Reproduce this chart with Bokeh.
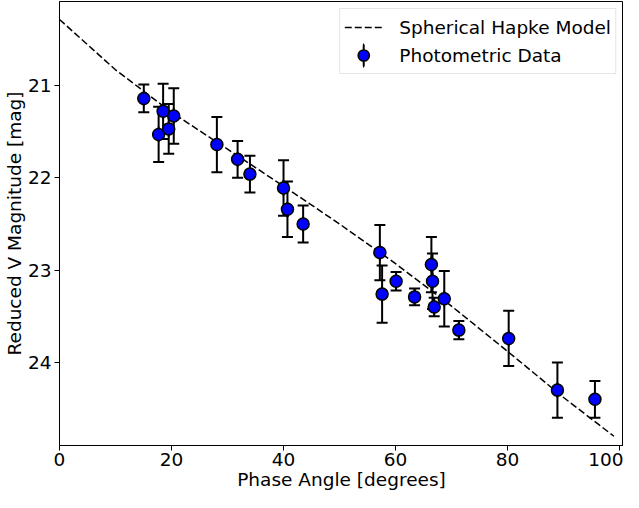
import numpy as np
from bokeh.plotting import figure
from bokeh.models import (ColumnDataSource, Range1d, FixedTicker, Legend, LegendItem)
from bokeh.embed import file_html
from bokeh.resources import INLINE

# Photometric data
phase = [15.05, 17.7, 18.5, 19.5, 20.4, 28.1, 31.8, 34.0, 40.0, 40.7, 43.5,
         57.2, 57.6, 60.1, 63.4, 66.4, 66.6, 66.9, 68.7, 71.3, 80.2, 88.9, 95.6]
mag = [21.14, 21.53, 21.28, 21.47, 21.33, 21.64, 21.80, 21.96, 22.11, 22.34, 22.50,
       22.81, 23.26, 23.12, 23.29, 22.94, 23.12, 23.40, 23.31, 23.65, 23.74, 24.30, 24.40]
err = [0.15, 0.30, 0.30, 0.27, 0.30, 0.30, 0.20, 0.20, 0.30, 0.30, 0.20,
       0.30, 0.31, 0.10, 0.09, 0.30, 0.30, 0.10, 0.30, 0.10, 0.30, 0.30, 0.20]

# Spherical Hapke model curve
model_phase = [0, 10, 20, 30, 40, 50, 60, 70, 80, 90, 99]
model_mag = [20.285, 20.83, 21.29, 21.69, 22.09, 22.50, 22.93, 23.39, 23.88, 24.38, 24.80]

x_ticks = [0, 20, 40, 60, 80, 100]
y_ticks = [21, 22, 23, 24]

FONT = "DejaVu Sans"
FS = "18.5px"

mag_a = np.array(mag)
err_a = np.array(err)
src = ColumnDataSource(dict(x=phase, y=mag, lo=list(mag_a + err_a), hi=list(mag_a - err_a)))

p = figure(width=623, height=492, output_backend="svg", toolbar_location=None,
           x_range=Range1d(0, 100.7), y_range=Range1d(24.90, 20.09),
           min_border=0, min_border_left=10, min_border_right=0, min_border_top=1,
           min_border_bottom=10)

p.background_fill_color = "white"
p.border_fill_color = "white"
p.outline_line_color = "black"
p.outline_line_width = 1
p.xgrid.visible = False
p.ygrid.visible = False

for ax in (p.xaxis, p.yaxis):
    ax.axis_line_color = "black"
    ax.major_tick_line_color = "black"
    ax.major_tick_out = 5
    ax.major_tick_in = 0
    ax.minor_tick_line_color = None
    ax.major_label_text_font = FONT
    ax.major_label_text_font_size = FS
    ax.major_label_text_color = "black"
    ax.axis_label_text_font = FONT
    ax.axis_label_text_font_size = FS
    ax.axis_label_text_font_style = "normal"
    ax.axis_label_text_color = "black"

p.xaxis.ticker = FixedTicker(ticks=x_ticks)
p.yaxis.ticker = FixedTicker(ticks=y_ticks)
p.xaxis.axis_label = "Phase Angle [degrees]"
p.yaxis.axis_label = "Reduced V Magnitude [mag]"
p.xaxis.major_label_standoff = 2
p.xaxis.axis_label_standoff = 0
p.yaxis.major_label_standoff = 3
p.yaxis.axis_label_standoff = 0

# model line
model_r = p.line(model_phase, model_mag, line_color="black", line_width=1.5, line_dash="7 3")

# error bars
p.segment(x0="x", y0="lo", x1="x", y1="hi", source=src, line_color="black", line_width=2)
p.scatter(x="x", y="lo", source=src, marker="dash", size=11, line_color="black", line_width=2)
p.scatter(x="x", y="hi", source=src, marker="dash", size=11, line_color="black", line_width=2)
# thin vertical stroke centred on each point (lies within the error bars; gives the legend its bar)
bar_leg = p.ellipse(x="x", y="y", source=src, width=0.1, height=16,
                    width_units="screen", height_units="screen",
                    fill_color=None, line_color="black", line_width=2)
pts = p.scatter(x="x", y="y", source=src, marker="circle", size=12,
                fill_color="blue", line_color="black", line_width=1.5)

legend = Legend(items=[
    LegendItem(label="Spherical Hapke Model", renderers=[model_r]),
    LegendItem(label="Photometric Data", renderers=[bar_leg, pts]),
], location="top_right")
legend.label_text_font = FONT
legend.label_text_font_size = FS
legend.label_text_color = "black"
legend.glyph_width = 38
legend.glyph_height = 28
legend.label_height = 21
legend.label_standoff = 17
legend.spacing = 0
legend.padding = 4
legend.margin = 7
legend.border_line_color = "#cccccc"
legend.border_line_width = 1
legend.background_fill_alpha = 0.8
p.add_layout(legend)

open("out.html", "w").write(file_html(p, INLINE))
